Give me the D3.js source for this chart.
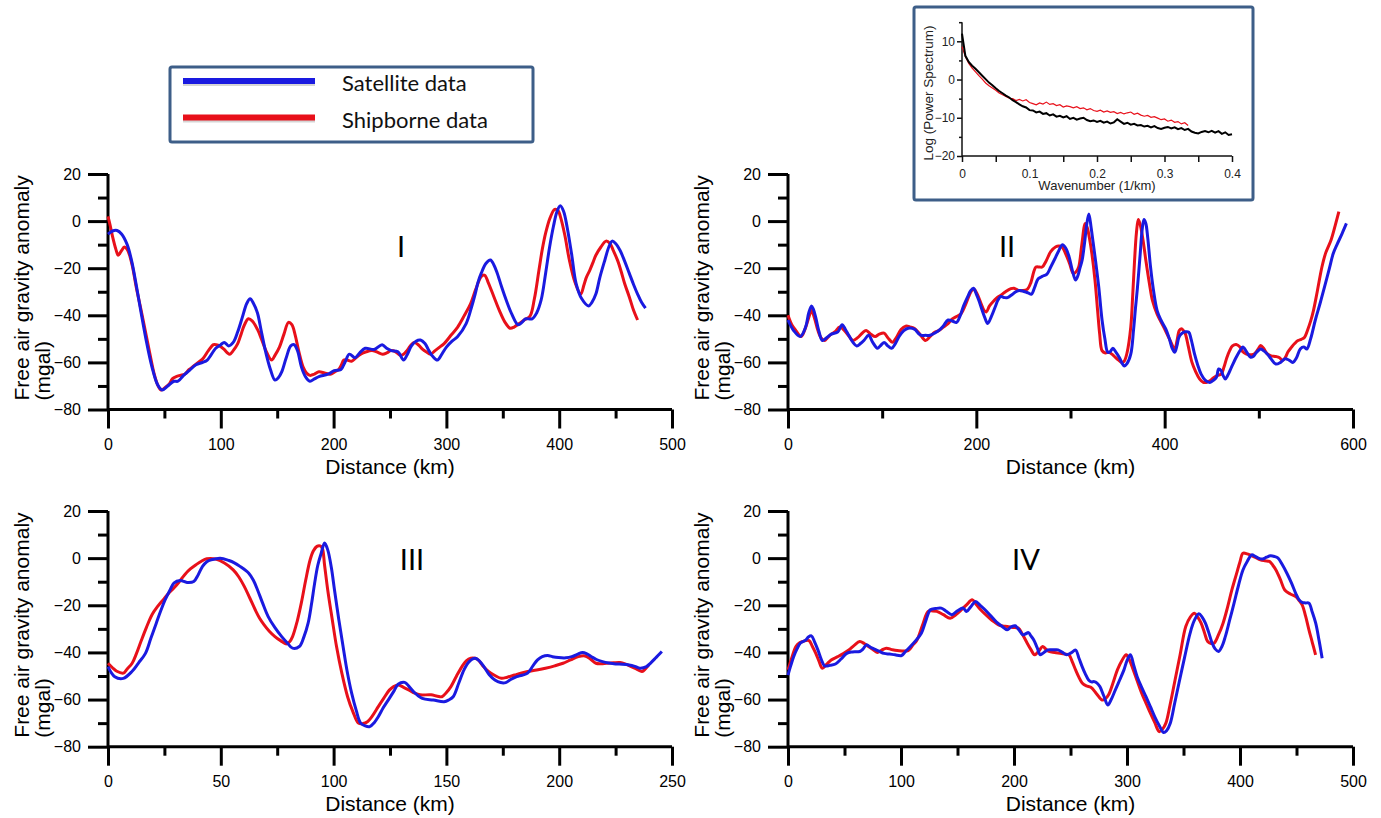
<!DOCTYPE html>
<html>
<head>
<meta charset="utf-8">
<script src="https://cdn.jsdelivr.net/npm/d3@7"></script>
<style>
  body { margin: 0; background: #fff; }
  svg { display: block; }
</style>
</head>
<body>
<script>
// ---- data: [distance km, free air anomaly mgal] ----
var p1Sat = [[0,-5.5],[4,-4.2],[8,-4],[12,-5.5],[17,-10],[21,-17],[25,-27],[29,-38],[34,-51],[39,-62],[44,-69.5],[48,-71.7],[53,-70],[58.5,-68],[62,-68],[67,-65.5],[72,-63.5],[78,-61],[84,-60],[88,-59],[95.5,-54],[100,-52.5],[103,-51.5],[107,-53],[111,-51.5],[115,-47],[119,-41],[123,-35],[126,-33],[129,-35],[132.5,-39],[136,-47],[140,-56],[144,-63],[148,-67.5],[151,-66.5],[154,-64],[158,-58],[162,-53],[165,-52.5],[168,-55],[171.5,-62],[175,-66],[179,-68],[183,-67],[187,-66],[195,-65],[200.5,-63.5],[206.5,-63],[210,-60],[214,-56.5],[219,-58],[223,-56],[228,-54],[236,-54.5],[243,-52.5],[247,-54],[251,-55],[257,-55.5],[262,-59],[265,-57],[269,-53],[273,-51],[277,-50.5],[281,-52],[284.5,-55],[288,-57.5],[292,-59],[296,-56.5],[300,-53.5],[305,-51],[310,-49],[317.5,-43.5],[322,-37],[325.5,-31],[328,-26],[331,-22],[335,-18],[339,-16.5],[342,-18.5],[345,-22],[349,-28],[353,-33.5],[358,-39.5],[363.5,-44],[367,-43],[370,-41.5],[376,-41.5],[380,-39],[384,-33.5],[388,-22],[391.5,-11],[395,-2],[398,4],[401,6.5],[404,4],[407,-2.5],[411,-14],[415,-26.5],[420,-33],[426,-36],[429,-34.5],[432.5,-31],[436,-24],[440.5,-16.5],[444,-11],[447,-8.5],[450,-9.5],[454,-12.5],[458,-17],[462,-22],[466,-27],[469.5,-31],[473,-34.5],[476.5,-37]];
var p1Ship = [[0,2],[2,-2],[4,-6.5],[7,-12],[9,-14.5],[12,-12.5],[14.5,-11],[17,-12],[19.5,-15],[22,-20],[25,-28],[29,-37],[33,-46.5],[37,-56],[41,-65],[44,-69.5],[47,-71.7],[51,-70.5],[54.5,-69],[57,-67],[60.5,-66],[64,-65.5],[68,-65],[72,-63],[76,-61.5],[80,-60],[84,-58.5],[89,-55],[93.5,-52.5],[96,-52.5],[99,-53],[103,-54.5],[106,-56],[108,-56.5],[111,-55],[115,-52],[118,-48],[121,-44],[124.5,-41.5],[128,-42.5],[132.5,-46],[136,-50],[140,-55],[145,-59],[148,-57],[152,-53.5],[156,-48],[160,-43],[163,-44],[166,-48.5],[169,-55],[173,-62],[176,-64.5],[179,-65.5],[183,-65],[187,-64],[192,-64.5],[197,-65],[201,-64],[204.5,-63],[207,-61],[209,-59],[212,-59],[216,-59.5],[220,-58],[224,-56.5],[229,-55.5],[234,-55],[238,-55.5],[243.5,-56.5],[247,-56],[251,-55],[255,-55.5],[259,-57],[262,-56.5],[265,-55],[268,-53],[271.5,-51.5],[275,-52.5],[279,-54.5],[282,-55.5],[286,-56.5],[290,-55],[294,-53.5],[298,-52],[304,-48.5],[310,-45],[316,-40],[321.5,-35],[326,-29],[331,-23.5],[334,-23],[337,-26],[342,-32],[347,-38],[352,-43],[356.5,-45.5],[360,-45],[364.5,-43.5],[369,-42],[374,-40.5],[378,-33],[382,-21],[385,-12],[388,-5],[392,1.5],[396,5],[399,4.5],[401,2],[405,-6],[409,-16.5],[414,-26],[419,-31],[422,-27],[424,-24],[427,-21],[430,-17.5],[432.5,-14.5],[437,-11],[441.5,-8.5],[445,-9.5],[448,-12.5],[452,-17],[455,-21.5],[458,-26.5],[462,-32],[466,-38],[469.5,-42]];

var p2Sat = [[0,-42],[6,-46.5],[13,-49],[18.7,-45],[22,-39],[25,-36],[27,-37.5],[29.5,-41],[33,-47],[36.5,-50.7],[41,-49.5],[46,-48],[53,-47],[57.5,-44],[61,-46],[64.5,-48.5],[69,-51.5],[73,-53],[77,-52],[81,-50.5],[85.6,-48.5],[90,-51.5],[95,-54],[98,-53],[102,-51.5],[106,-53],[110,-54],[114,-52],[118,-49],[123,-46.5],[127.7,-45.5],[134.7,-46],[138,-47.5],[141.7,-48.5],[146,-48.5],[151,-48.5],[156,-47.5],[160,-46.5],[165,-44.5],[170,-42],[175,-42.5],[179,-43],[183,-40],[186,-36.5],[191,-32],[194,-29.5],[197,-28.5],[200,-31],[203,-34],[205,-36.5],[209,-41],[212,-43.5],[216,-40.5],[220,-36.5],[223,-33.5],[226,-32],[230,-32.5],[233,-32.5],[237,-31.5],[242,-30],[246,-29.5],[251.6,-30],[255,-30.5],[258.6,-31],[262,-28],[265.7,-24.5],[270,-23.5],[275,-22.5],[279,-19.5],[283.4,-16],[287,-13],[291.4,-10],[295,-11.5],[298.4,-15],[302,-21],[305.4,-25],[308,-23],[310,-20],[312.4,-16.5],[315,-9],[317,-2],[319.5,3],[322,-3],[324,-9],[326.5,-16.5],[330,-28],[333.5,-42],[336.5,-50],[339.6,-55.7],[342,-55.5],[345,-54],[348,-55.5],[352,-58],[355,-60.5],[357,-61.5],[360,-60.5],[364,-56.5],[367,-46],[369,-37],[371,-28.7],[374,-14],[376,-4],[378,0.7],[380,-1],[382,-7],[385,-19.5],[388,-29],[392,-38],[396,-42],[401,-45.7],[405,-50],[408,-54],[410.7,-55.7],[413,-53],[415,-49.5],[417.7,-47.9],[422,-47],[425.6,-47.2],[428,-50],[431.7,-56.4],[435,-61],[438.7,-65],[443,-67.5],[448,-68.5],[452,-67.5],[455,-66.3],[457.4,-62.8],[460,-63.5],[462,-65.5],[464.4,-67],[467,-65.5],[471,-62],[476,-57.8],[480,-55],[483,-53.5],[487,-55.5],[491,-57.8],[494,-57.5],[497,-56],[501.9,-54.3],[505,-55],[509,-56.4],[513,-58.5],[518,-60.7],[523,-60],[527.6,-58.5],[532,-59],[536,-60],[540,-58],[544,-54.3],[548,-53.5],[551,-54.3],[555,-50],[560,-42],[565,-35],[569.7,-28],[575,-20],[579,-13.8],[583,-10],[588.4,-5.3],[593,-1]];
var p2Ship = [[0,-40],[4,-44],[8.4,-46.5],[14,-49],[18,-46],[22,-41],[25,-38],[28,-41],[31.8,-46.5],[35,-49.5],[38.8,-50.7],[42,-49.5],[46,-48],[50,-47],[55,-45],[60,-46.5],[65,-49],[69,-50.7],[74,-49.5],[79,-47.5],[83,-46.5],[88,-48],[92.6,-49],[97,-48],[102,-47.6],[106,-49.5],[111,-51.4],[115,-49.5],[120,-46],[125,-44.6],[130,-45],[134.7,-45.7],[140,-48],[146,-50.7],[151,-49],[155.7,-47.2],[160,-46.5],[165,-45],[170,-43.5],[174.5,-41.5],[179,-40.5],[183.8,-39.3],[188,-36],[192,-32],[195,-29.5],[197.8,-29],[201,-31],[205,-35],[208,-37.8],[210.5,-38.6],[214,-36],[219,-33.7],[222,-32.5],[226,-31.5],[231,-30],[236.7,-28.7],[240,-28.5],[244.6,-29.4],[249,-29.5],[254,-29],[258,-26],[261,-21.5],[263.3,-19.5],[267,-19.5],[270,-19.5],[274,-17],[279,-13],[284.4,-10.9],[288,-10.6],[291.4,-11.2],[295,-14],[299,-18],[303,-22.3],[306,-21.5],[308.7,-19.5],[312,-10],[315.7,-1],[318,-3],[320,-7],[322.7,-13.8],[326,-25],[328.8,-38],[331,-48],[333.5,-55],[337,-56],[340.5,-55.7],[344,-56.5],[347.5,-57.8],[351,-59],[354.5,-60],[357,-59.5],[360,-56],[364,-45],[366,-32],[368,-17],[370,-5],[372,0.7],[374,-1.5],[377,-8],[380,-16.6],[384,-27],[387,-33.7],[392,-39.5],[399,-45],[405,-50],[410.7,-54.3],[413,-51],[415.5,-46.5],[417.7,-45.7],[420,-46.5],[422,-47.9],[425,-53],[429,-60],[433,-64],[437,-67],[441,-68.5],[444,-68.5],[448,-67.8],[452,-66.5],[456,-65.5],[460,-65],[463,-62],[466,-58],[469,-55],[472,-53],[476,-52.4],[480,-53.5],[483,-55.5],[486.4,-56.4],[490,-56.8],[495,-56.4],[499,-54.5],[502,-52.8],[505,-54],[509,-56.4],[513,-57.2],[518,-57.5],[522,-58],[525,-59.2],[528,-58],[531,-55.5],[534.6,-53.6],[538,-52],[541.6,-50.7],[545,-50.2],[548.6,-49.3],[552,-46],[555,-42.5],[558,-38],[562,-30],[567,-19.5],[571,-13.5],[576.7,-8],[581,-2],[585,4]];

var p3Sat = [[0,-46],[3,-50.3],[6.8,-51],[10.7,-48],[13.5,-44.5],[16.6,-40.4],[19,-34],[21.4,-27.6],[23.5,-22],[25.3,-17.7],[27.5,-13.5],[29.2,-10.6],[32,-9.5],[35,-10.3],[38,-9.9],[40,-7],[41.9,-3.5],[43.8,-1.5],[45.8,-0.7],[49.7,0],[53.6,-1],[56,-2],[58.5,-3.5],[62.4,-6.4],[64.5,-9.5],[66.3,-13.5],[68.5,-19],[71,-24.8],[74,-29.5],[77,-33.3],[79.5,-36],[81.8,-38.2],[84.8,-37.5],[86.8,-33.5],[88.7,-27.6],[90.2,-19.5],[91.6,-10.6],[93,-3],[94.5,2.1],[96,6.4],[97.4,3.5],[99,-4],[100.4,-13.5],[102.3,-26],[104.2,-37.5],[106,-48],[108,-57.3],[110,-64.5],[112,-70],[114,-71.2],[116,-71.5],[118,-69.8],[119.8,-67.3],[122,-63.5],[124.7,-59.5],[126.8,-56.3],[128.6,-53.5],[131.5,-52.7],[133.5,-54.5],[135.4,-56.6],[139.3,-59.5],[144.2,-60.2],[149,-60.9],[151,-60.2],[153,-58.8],[155.5,-53],[157.8,-47.4],[160,-44],[162.7,-42.5],[164.5,-43.5],[166.6,-46],[169,-49.5],[171.5,-51.7],[174,-52.8],[176.3,-52.8],[178.5,-51.5],[181.2,-50.3],[183.5,-49.7],[186,-48.8],[188.5,-45.5],[190.4,-43.2],[192.5,-41.8],[194.9,-41.3],[197,-41.8],[199.7,-42.2],[203,-42.3],[205.6,-41.8],[208,-40.8],[210.4,-40],[212.3,-40.6],[214.3,-41.8],[216.5,-43],[219.2,-43.9],[222,-44.5],[225,-44.9],[228,-45],[231,-45.3],[233.5,-45.9],[235.8,-46.7],[238.7,-46],[240.5,-44.5],[242.6,-42.5],[245.5,-39.6]];
var p3Ship = [[0,-44.6],[2,-46.5],[3.9,-48],[6.8,-48.8],[8.5,-47],[10.7,-44.6],[12.6,-40.5],[14.6,-35.4],[17,-29.5],[19.5,-24],[22,-20.5],[24.4,-17.7],[26.8,-15],[29.2,-12.7],[31.6,-10],[34,-7],[36.5,-4.6],[39,-2.8],[41.4,-1.3],[43.8,-0.3],[47.7,-0.4],[51.6,-2.1],[55.5,-5],[58,-8],[60.4,-12],[62.8,-16.8],[65.3,-22],[67.2,-25.5],[69.2,-28.3],[71.5,-31],[74,-33.3],[76.5,-35],[79,-36.4],[80.5,-35.5],[81.8,-33.3],[83.8,-27],[85.7,-19],[87.6,-9.5],[89.6,-0.7],[91,3],[92.6,5],[94,5.2],[95,4.2],[96,-3],[97.4,-13.5],[99.4,-26],[101.3,-37.5],[103.7,-49],[106.2,-58.8],[108.5,-65],[111,-70],[113,-70.2],[115,-69.4],[117.5,-66.5],[119.8,-63],[122.2,-59.5],[124.7,-56],[126.6,-54.5],[128.6,-53.8],[131,-54.8],[133.5,-56],[136,-57.3],[138.3,-58],[143.2,-58],[146,-58.6],[148,-58.8],[150,-57],[152,-54.5],[154.5,-50],[156.9,-46],[158.8,-43.6],[160.8,-42.5],[163.7,-42.9],[166,-45.5],[168.5,-48],[171.5,-49.8],[174.4,-51],[177,-50.5],[180.2,-49.6],[183,-48.8],[186,-48.1],[190,-47.5],[193.9,-46.7],[198,-45.7],[201.7,-44.6],[205,-43.2],[208.5,-41.8],[211.4,-41.5],[213.8,-42.8],[216.3,-44.6],[218.5,-44.8],[221,-44.6],[224,-44.4],[227,-44.3],[229.5,-45],[231.9,-46],[234.5,-47.2],[236.7,-48.1],[238.2,-47],[239.7,-45.3]];

var p4Sat = [[0,-49.6],[2.5,-45.5],[5,-41.8],[8,-38.5],[11,-36],[15.6,-34.8],[18,-33.5],[20.7,-33],[23.5,-35.5],[26.5,-39],[29.5,-43],[32.3,-45.7],[37,-45.5],[42,-44.9],[47,-42.8],[52,-40.4],[57,-39.8],[63.5,-39.6],[66.5,-38.5],[69.4,-36.8],[73,-37.8],[77,-38.7],[81,-39.6],[85,-40.4],[90,-40.7],[94.7,-41],[100.5,-41.3],[104,-39.6],[108.3,-37.5],[113,-35],[118,-31.9],[122,-26.5],[126,-21.9],[130.5,-21.4],[135.6,-21.2],[140,-22.5],[145,-24],[150,-22.3],[155,-21.2],[158,-22.6],[162,-20.5],[166,-18.4],[170,-20],[174.6,-22],[179.5,-24.5],[184.3,-27],[189,-28.8],[194,-30.4],[197.5,-29.2],[201,-28.7],[204.5,-30.5],[207.7,-32.5],[210,-32.2],[212.8,-31.6],[215,-33],[217.5,-34.7],[220.5,-38],[223.3,-41],[226.5,-40],[230,-38.9],[235,-38.9],[239,-38.9],[243,-40],[246.7,-41],[250.5,-40.2],[254.5,-39],[257.5,-42.5],[260.3,-46],[263,-49],[266,-51.7],[268.5,-52.5],[271,-52.4],[273.5,-53],[276,-54.5],[279.5,-58.5],[283,-62.3],[286,-60],[289.6,-56],[293.5,-51.7],[297.3,-47.4],[300,-43.5],[303,-41],[306,-45.5],[309,-50.3],[313,-54.8],[316.8,-58.8],[320.7,-63],[324.6,-67.3],[328.5,-71],[332.4,-74],[335,-73.2],[338.3,-70],[342,-62],[346,-53],[351,-42],[355.8,-31.9],[359.5,-26.5],[363.6,-23.6],[366.5,-25],[369.4,-27.6],[372.3,-31.5],[375.3,-36],[378,-38.5],[381,-39.6],[384,-37.5],[387,-33.3],[391,-26],[394.8,-19],[398.7,-11.5],[402.6,-5],[406.5,-1.3],[410.4,1.4],[413.3,0.8],[416.2,0],[420,-0.4],[423.5,0.4],[427,1],[430.5,0.7],[433.7,0],[437.5,-2.8],[441.5,-6.4],[445.5,-10.5],[449.3,-14.9],[452,-17.5],[455,-18.8],[458,-19],[461,-19.1],[464,-23],[467,-27.6],[470,-35],[472.7,-42.5]];
var p4Ship = [[0,-47.4],[3.5,-42],[7,-37.5],[10,-36],[12.9,-35.4],[15.8,-35],[18.7,-35],[21.6,-37.5],[24.6,-40.4],[27.5,-43.8],[30.4,-46.7],[34.3,-45],[38.2,-43.2],[44,-41.8],[49,-40.5],[53.8,-39],[58.6,-37],[63.5,-35.4],[67.4,-36.2],[71.3,-37.5],[75.2,-38.8],[79,-40],[83,-39],[87,-38.2],[91.8,-38.8],[96.6,-39.2],[106.4,-39.2],[110.3,-37],[114.2,-34.7],[119,-28.5],[124,-22.6],[128,-22.4],[131.7,-22.6],[137.5,-24],[143.5,-25.5],[148.5,-24],[153.3,-22],[158,-19.8],[163,-17.7],[166.8,-19.8],[170.7,-22],[174.6,-23.8],[178.5,-25.5],[182.4,-27],[186.3,-28.3],[190,-28.8],[194,-29],[199,-29.4],[203.8,-29.7],[207.7,-32.5],[211.6,-36],[215,-38.8],[218.2,-41],[221.8,-39.5],[225.3,-37.5],[228,-38.5],[231,-39.6],[236,-40],[240.8,-40.4],[244.7,-40.7],[248.6,-41],[251.6,-44],[254.5,-47.4],[257.4,-50.5],[260.3,-53],[264,-54.2],[268,-54.8],[273,-57.5],[277.9,-60.2],[280.8,-59.7],[283.7,-58],[287.6,-53],[291.5,-47.4],[295.4,-43.5],[299.3,-41],[302,-43],[305,-46.7],[309,-52],[313,-57.3],[316.8,-61.5],[320.7,-65.8],[324.6,-69.8],[328.5,-73.6],[331.5,-72.5],[334.4,-70],[338,-62.5],[342,-53],[347,-41],[352,-29],[356,-25],[359.7,-23.4],[362.6,-25],[365.6,-27.6],[368.5,-31.5],[371.4,-35.4],[374.3,-36.2],[377.2,-36],[381,-32.5],[385,-27.6],[388.9,-21],[392.8,-13.5],[396.7,-7],[400,-1.5],[402.6,2.1],[406.5,1.8],[410.4,1],[414,0.2],[418,-0.7],[422,-1.1],[426,-1.4],[429,-3],[431.8,-5],[435.7,-9],[439.6,-13.5],[444.5,-15.2],[449.3,-16.3],[452,-17.8],[455,-19.8],[458,-24.5],[461,-30.4],[464,-35.8],[466.9,-41]];

// inset: wavenumber (1/km) every 0.005, log power spectrum
var specSatellite = [12.0,6.2,4.6,3.6,2.8,1.9,1.0,0.1,-0.8,-1.5,-2.3,-3.0,-3.6,-4.2,-4.7,-5.4,-5.9,-6.5,-7.0,-7.3,-8.0,-8.1,-8.6,-8.4,-9.0,-8.8,-9.4,-9.1,-9.7,-9.5,-9.9,-9.6,-10.3,-10.0,-10.5,-10.2,-10.0,-10.6,-10.9,-10.7,-11.1,-10.8,-11.3,-11.0,-11.5,-11.2,-10.4,-11.0,-11.6,-11.3,-11.8,-11.6,-12.0,-11.9,-12.3,-12.1,-12.5,-12.2,-12.7,-12.9,-12.6,-12.4,-12.8,-12.5,-13.0,-12.7,-13.2,-12.9,-13.6,-13.9,-14.1,-13.7,-13.5,-13.8,-13.4,-13.9,-13.5,-14.2,-13.8,-14.5,-14.3];
var specShipborne = [8.6,6.0,4.2,3.0,2.0,1.0,0.1,-0.9,-1.6,-2.2,-2.8,-3.5,-4.0,-4.4,-4.9,-5.0,-5.5,-5.2,-5.6,-5.3,-6.0,-6.3,-6.6,-6.1,-6.4,-5.9,-6.5,-6.3,-6.8,-6.6,-7.2,-6.9,-7.1,-7.4,-7.1,-7.6,-7.4,-7.9,-7.6,-8.1,-8.3,-8.0,-8.5,-8.2,-8.6,-8.4,-8.9,-8.6,-9.0,-8.7,-8.5,-9.1,-8.8,-9.3,-9.6,-9.4,-9.9,-9.7,-10.1,-10.5,-10.3,-10.9,-10.6,-11.2,-11.0,-11.6,-11.3,-12.0];
var specStep = 0.005;

var yTicks = [-80, -60, -40, -20, 0, 20];
var yMinor = [-70, -50, -30, -10, 10];
var legendLabels = ["Satellite data", "Shipborne data"];

var blue = "#1a1ae0", red = "#e8101a", boxBlue = "#3d5e88";

var svg = d3.select("body").append("svg")
  .attr("width", 1381).attr("height", 818);
svg.append("rect").attr("width", 1381).attr("height", 818).attr("fill", "#fff");

var panels = [
  {name: "I",   sat: p1Sat, ship: p1Ship, xmax: 500, step: 100, left: 108, right: 672, top: 174, bottom: 409.5, lx: 401,  ly: 257},
  {name: "II",  sat: p2Sat, ship: p2Ship, xmax: 600, step: 200, left: 788, right: 1353, top: 174, bottom: 409.5, lx: 1007, ly: 257},
  {name: "III", sat: p3Sat, ship: p3Ship, xmax: 250, step: 50,  left: 108, right: 672, top: 511, bottom: 746.7, lx: 412,  ly: 570},
  {name: "IV",  sat: p4Sat, ship: p4Ship, xmax: 500, step: 100, left: 788, right: 1353, top: 511, bottom: 746.7, lx: 1026, ly: 570}
];

panels.forEach(function(p) {
  var x = d3.scaleLinear().domain([0, p.xmax]).range([p.left, p.right]);
  var y = d3.scaleLinear().domain([-80, 20]).range([p.bottom, p.top]);
  var g = svg.append("g");

  var majors = d3.range(0, p.xmax + 1, p.step);
  var minors = majors.slice(1).map(function(v) { return v - p.step / 2; });

  // y axis
  g.append("g").attr("transform", "translate(" + p.left + ",0)")
    .call(d3.axisLeft(y).tickValues(yTicks).tickSize(20).tickPadding(7).tickSizeOuter(0))
    .call(styleAxis, 16);
  g.append("g").attr("transform", "translate(" + p.left + ",0)")
    .call(d3.axisLeft(y).tickValues(yMinor).tickSize(10).tickFormat("").tickSizeOuter(0))
    .call(styleAxis, 16);
  // x axis
  g.append("g").attr("transform", "translate(0," + p.bottom + ")")
    .call(d3.axisBottom(x).tickValues(majors).tickSize(19).tickPadding(10).tickSizeOuter(0))
    .call(styleAxis, 16);
  g.append("g").attr("transform", "translate(0," + p.bottom + ")")
    .call(d3.axisBottom(x).tickValues(minors).tickSize(9).tickFormat("").tickSizeOuter(0))
    .call(styleAxis, 16);

  g.append("line").attr("x1", p.left).attr("x2", p.left).attr("y1", p.top).attr("y2", p.bottom)
    .attr("stroke", "#000").attr("stroke-width", 3);
  g.append("line").attr("x1", p.left).attr("x2", p.right).attr("y1", p.bottom).attr("y2", p.bottom)
    .attr("stroke", "#000").attr("stroke-width", 3);

  // titles
  var yt = g.append("text")
    .attr("transform", "translate(" + (p.left - 79) + "," + (p.bottom - 9) + ") rotate(-90)")
    .style("font-family", "'Liberation Sans', Arial, sans-serif").style("font-size", "21px");
  yt.append("tspan").attr("x", 0).attr("y", 0).text("Free air gravity anomaly");
  yt.append("tspan").attr("x", 0).attr("y", 21).text("(mgal)");

  g.append("text").attr("x", (p.left + p.right) / 2).attr("y", p.bottom + 64)
    .attr("text-anchor", "middle")
    .style("font-family", "'Liberation Sans', Arial, sans-serif").style("font-size", "21px")
    .text("Distance (km)");

  g.append("text").attr("x", p.lx).attr("y", p.ly).attr("text-anchor", "middle")
    .style("font-family", "Lato, 'Open Sans', sans-serif").style("font-size", "29px")
    .text(p.name);

  var line = d3.line()
    .x(function(d) { return x(d[0]); })
    .y(function(d) { return y(d[1]); })
    .curve(d3.curveCatmullRom.alpha(0.5));

  g.append("path").datum(p.ship).attr("d", line)
    .attr("fill", "none").attr("stroke", red).attr("stroke-width", 3);
  g.append("path").datum(p.sat).attr("d", line)
    .attr("fill", "none").attr("stroke", blue).attr("stroke-width", 3);
});

function styleAxis(sel, fs) {
  sel.select(".domain").remove();
  sel.selectAll(".tick line").attr("stroke", "#000").attr("stroke-width", 3);
  sel.selectAll(".tick text").attr("fill", "#000")
    .style("font-family", "'Liberation Sans', Arial, sans-serif").style("font-size", fs + "px");
}

// ---- legend ----
var leg = svg.append("g");
leg.append("rect").attr("x", 170).attr("y", 67).attr("width", 363).attr("height", 75)
  .attr("rx", 2).attr("fill", "#fff").attr("stroke", boxBlue).attr("stroke-width", 3);
[blue, red].forEach(function(c, i) {
  var ly = 81 + i * 36.5;
  leg.append("line").attr("x1", 183).attr("x2", 315).attr("y1", ly + 2).attr("y2", ly + 2)
    .attr("stroke", "#888").attr("stroke-opacity", 0.35).attr("stroke-width", 6);
  leg.append("line").attr("x1", 183).attr("x2", 315).attr("y1", ly).attr("y2", ly)
    .attr("stroke", c).attr("stroke-width", 6);
  leg.append("text").attr("x", 342).attr("y", ly + 10)
    .style("font-family", "Lato, 'Open Sans', sans-serif").style("font-size", "22px")
    .attr("fill", "#111").text(legendLabels[i]);
});

// ---- inset spectrum ----
var ins = svg.append("g");
ins.append("rect").attr("x", 914).attr("y", 7).attr("width", 339).attr("height", 193)
  .attr("rx", 2).attr("fill", "#fff").attr("stroke", boxBlue).attr("stroke-width", 3);

var sx = d3.scaleLinear().domain([0, 0.4]).range([962, 1232]);
var sy = d3.scaleLinear().domain([-20, 10]).range([156, 41.3]);

ins.append("g").attr("transform", "translate(962,0)")
  .call(d3.axisLeft(sy).tickValues([-20, -10, 0, 10]).tickSize(5).tickPadding(2).tickSizeOuter(0))
  .call(styleInset);
ins.append("g").attr("transform", "translate(962,0)")
  .call(d3.axisLeft(sy).tickValues([-15, -5, 5, 15]).tickSize(3).tickFormat("").tickSizeOuter(0))
  .call(styleInset);
ins.append("g").attr("transform", "translate(0,156)")
  .call(d3.axisBottom(sx).tickValues([0, 0.1, 0.2, 0.3, 0.4]).tickSize(6).tickPadding(7)
    .tickFormat(function(d) { return d === 0 ? "0" : d3.format(".1f")(d); }).tickSizeOuter(0))
  .call(styleInset);
ins.append("g").attr("transform", "translate(0,156)")
  .call(d3.axisBottom(sx).tickValues([0.05, 0.15, 0.25, 0.35]).tickSize(6).tickFormat("").tickSizeOuter(0))
  .call(styleInset);
ins.append("line").attr("x1", 962).attr("x2", 962).attr("y1", sy(15)).attr("y2", 156)
  .attr("stroke", "#111").attr("stroke-width", 1.5);
ins.append("line").attr("x1", 962).attr("x2", 1232).attr("y1", 156).attr("y2", 156)
  .attr("stroke", "#111").attr("stroke-width", 1.5);

ins.append("text").attr("x", 1097).attr("y", 190).attr("text-anchor", "middle")
  .style("font-family", "'Liberation Sans', Arial, sans-serif").style("font-size", "13px")
  .attr("fill", "#222").text("Wavenumber (1/km)");
ins.append("text").attr("transform", "translate(933,93) rotate(-90)").attr("text-anchor", "middle")
  .style("font-family", "'Liberation Sans', Arial, sans-serif").style("font-size", "13.5px")
  .attr("fill", "#222").text("Log (Power Spectrum)");

var specLine = d3.line()
  .x(function(d, i) { return sx(i * specStep); })
  .y(function(d) { return sy(d); });
ins.append("path").datum(specShipborne).attr("d", specLine)
  .attr("fill", "none").attr("stroke", red).attr("stroke-width", 1.2);
ins.append("path").datum(specSatellite).attr("d", specLine)
  .attr("fill", "none").attr("stroke", "#000").attr("stroke-width", 2);

function styleInset(sel) {
  sel.select(".domain").remove();
  sel.selectAll(".tick line").attr("stroke", "#111").attr("stroke-width", 1.5);
  sel.selectAll(".tick text").attr("fill", "#222")
    .style("font-family", "'Liberation Sans', Arial, sans-serif").style("font-size", "12px");
}
</script>
</body>
</html>
